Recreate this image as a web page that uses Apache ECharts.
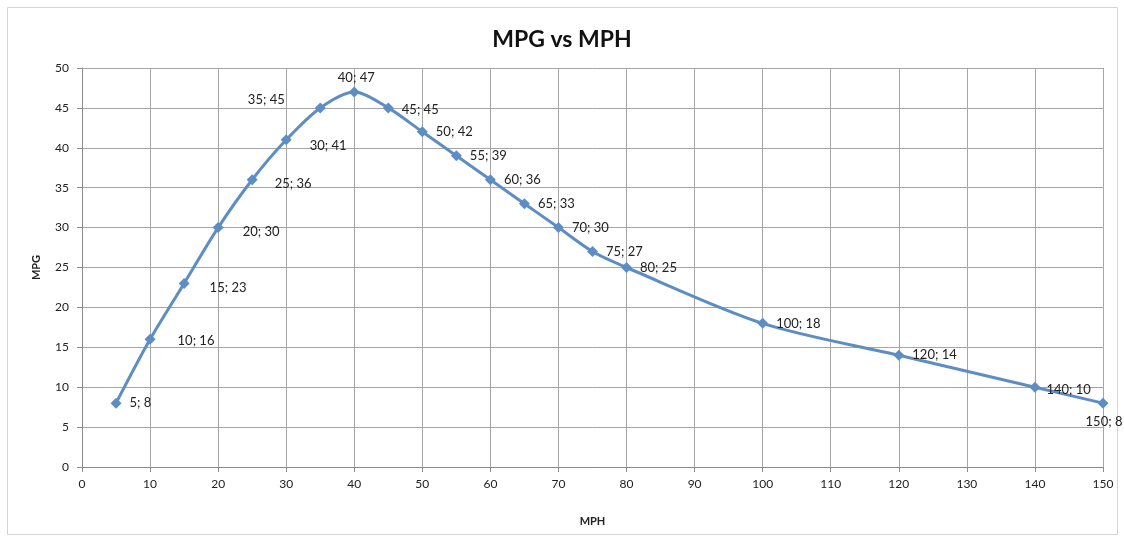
<!DOCTYPE html>
<html>
<head>
<meta charset="utf-8">
<script src="https://cdn.jsdelivr.net/npm/echarts@6/dist/echarts.min.js"></script>
<style>
  html, body { margin: 0; padding: 0; background: #fff; }
  #main { width: 1124px; height: 541px; }
</style>
</head>
<body>
<div id="main"></div>
<script>
// data
var mph = [5, 10, 15, 20, 25, 30, 35, 40, 45, 50, 55, 60, 65, 70, 75, 80, 100, 120, 140, 150];
var mpg = [8, 16, 23, 30, 36, 41, 45, 47, 45, 42, 39, 36, 33, 30, 27, 25, 18, 14, 10, 8];

// labels that were moved by hand in the original (index -> label style)
var labelTweaks = {
  1: { offset: [14, 1] },
  2: { offset: [12, 4] },
  3: { offset: [11, 4] },
  4: { offset: [9, 4] },
  5: { offset: [10, 6] },
  6: { position: 'left', offset: [-22, -8] },
  7: { position: 'top', offset: [2, 6] },
  8: { offset: [0, 2] },
  18: { offset: [-2, 3] },
  19: { position: 'bottom', offset: [1, -1] }
};

var font = 'Lato, "Open Sans", sans-serif';
var points = mph.map(function (x, i) {
  var p = { value: [x, mpg[i]] };
  if (labelTweaks[i]) p.label = labelTweaks[i];
  return p;
});

var chart = echarts.init(document.getElementById('main'));
chart.setOption({
  animation: false,
  textStyle: { fontFamily: font },
  title: {
    text: 'MPG vs MPH',
    left: 'center',
    top: 23,
    textStyle: { fontSize: 23, fontWeight: 'bold', color: '#111', fontFamily: font }
  },
  graphic: [{
    type: 'rect',
    shape: { x: 7.5, y: 7.5, width: 1110, height: 527 },
    style: { fill: 'none', stroke: '#d4d4d4', lineWidth: 1 },
    z: -1
  }],
  grid: { left: 82, right: 21, top: 68, bottom: 74 },
  xAxis: {
    type: 'value',
    min: 0, max: 150, interval: 10,
    name: 'MPH',
    nameLocation: 'middle',
    nameGap: 49,
    nameTextStyle: { fontWeight: 'bold', fontSize: 11, color: '#222' },
    axisLine: { lineStyle: { color: '#8c8c8c' } },
    axisTick: { show: true, length: 5, lineStyle: { color: '#8c8c8c' } },
    axisLabel: { color: '#222', fontSize: 12, margin: 11 },
    splitLine: { lineStyle: { color: '#a6a6a6' } }
  },
  yAxis: {
    type: 'value',
    min: 0, max: 50, interval: 5,
    name: 'MPG',
    nameLocation: 'middle',
    nameGap: 40,
    nameTextStyle: { fontWeight: 'bold', fontSize: 11, color: '#222' },
    axisLine: { show: true, lineStyle: { color: '#8c8c8c' } },
    axisTick: { show: true, length: 5, lineStyle: { color: '#8c8c8c' } },
    axisLabel: { color: '#222', fontSize: 12, margin: 13 },
    splitLine: { lineStyle: { color: '#a6a6a6' } }
  },
  series: [{
    type: 'line',
    data: points,
    smooth: 0.3,
    symbol: 'diamond',
    symbolSize: 11,
    lineStyle: { color: '#5e8dc4', width: 3 },
    itemStyle: { color: '#5e8dc4' },
    label: {
      show: true,
      position: 'right',
      distance: 8,
      color: '#222',
      fontSize: 13,
      formatter: function (p) { return p.value[0] + '; ' + p.value[1]; }
    }
  }]
});
</script>
</body>
</html>
